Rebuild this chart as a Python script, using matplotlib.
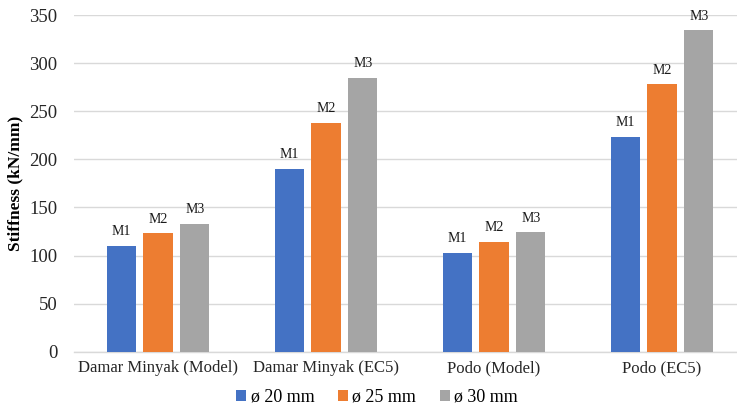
import matplotlib
matplotlib.use("Agg")
import matplotlib.pyplot as plt
import numpy as np

categories = ["Damar Minyak (Model)", "Damar Minyak (EC5)", "Podo (Model)", "Podo (EC5)"]
series_names = ["ø 20 mm", "ø 25 mm", "ø 30 mm"]
bar_labels = ["M1", "M2", "M3"]
d20 = [110, 190, 103, 223]
d25 = [123, 238, 114, 278]
d30 = [133, 285, 124, 334]
yticks = [0, 50, 100, 150, 200, 250, 300, 350]

colors = ["#4472C4", "#ED7D31", "#A5A5A5"]

plt.rcParams['font.family'] = ['Liberation Serif', 'DejaVu Serif']

fig = plt.figure(figsize=(7.37, 4.13), dpi=100)
ax = fig.add_axes([74/737, 1 - 351.7/413, 1 - 74/737, (351.7 - 15)/413])

x = np.arange(len(categories))
step = 0.22
width = 0.173
for i, (vals, name, col, lab) in enumerate(zip([d20, d25, d30], series_names, colors, bar_labels)):
    pos = x + (i - 1) * step
    bars = ax.bar(pos, vals, width=width, color=col, label=name, zorder=3)
    for b in bars:
        ax.text(b.get_x() + b.get_width() / 2, b.get_height() + 8, lab,
                ha='center', va='bottom', fontsize=10, color='#1a1a1a')

ax.set_ylim(0, 350)
ax.set_xlim(-0.5, 3.5 - 9/168)
ax.set_yticks(yticks)
ax.set_xticks(x)
ax.set_xticklabels(categories, fontsize=12)
ax.tick_params(axis='y', labelsize=13.5, length=0, pad=12, colors='#262626')
ax.tick_params(axis='x', length=0, pad=6, colors='#262626')
ax.grid(axis='y', color='#D9D9D9', linewidth=1, zorder=0)
for s in ['top', 'right', 'left']:
    ax.spines[s].set_visible(False)
ax.spines['bottom'].set_color('#D9D9D9')
ax.spines['bottom'].set_linewidth(1)
ax.set_ylabel("Stiffness (kN/mm)", fontsize=12.5, fontweight='bold')
ax.yaxis.set_label_coords(-0.077, 0.5)

fig.legend(loc='center', bbox_to_anchor=(377/737, 1 - 397/413), ncol=3, frameon=False,
           fontsize=13, handlelength=0.55, handleheight=0.55, handletextpad=0.25,
           columnspacing=1.3)

fig.savefig("out.png", dpi=100)
